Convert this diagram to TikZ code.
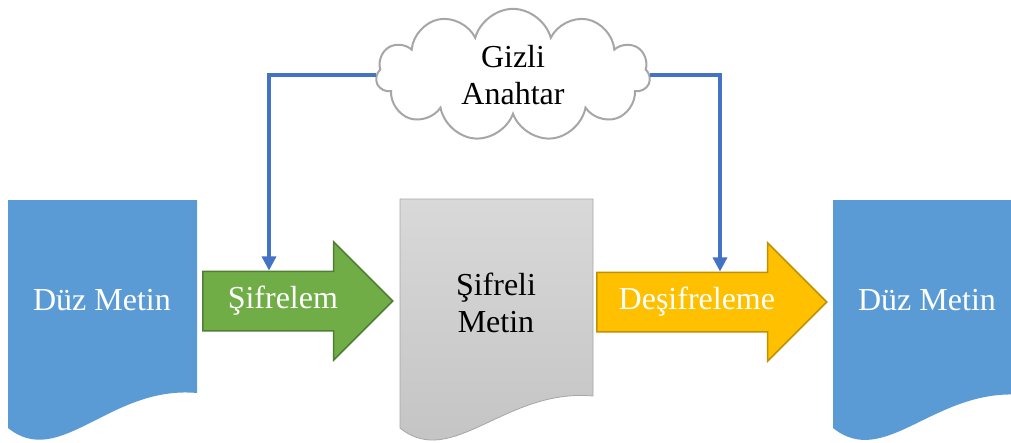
\documentclass[tikz,border=0pt]{standalone}
\usepackage{fontspec}
\setmainfont{Liberation Serif}
\usetikzlibrary{shapes.symbols,shapes.arrows,arrows.meta}

\definecolor{docblue}{HTML}{5B9BD5}
\definecolor{keyblue}{HTML}{4472C4}
\definecolor{encgreen}{HTML}{70AD47}
\definecolor{encgreendark}{HTML}{507E32}
\definecolor{decorange}{HTML}{FFC000}
\definecolor{decorangedark}{HTML}{BF9000}
\definecolor{cloudgray}{HTML}{A6A6A6}

\begin{document}
\begin{tikzpicture}[x=1pt, y=-1pt,
  txt/.style={font=\fontsize{32}{37}\selectfont, align=center},
  bigarrow/.style={txt, single arrow, single arrow head extend=29.5pt, anchor=tail,
    text height=22pt, text depth=8pt, inner ysep=14pt, line width=1.5pt, text=white},
  keyline/.style={draw=keyblue, line width=3.2pt, -{Triangle[length=14pt,width=14pt]}}]

\clip (0,0) rectangle (1011,442);

\fill[docblue] (8,200) -- (197,200) -- (197,393) .. controls (110,385) and (60,470) .. (8,428) -- cycle;
\draw[draw=cloudgray, top color=gray!30, bottom color=gray!48, line width=0.8pt]
  (400,199) -- (593,199) -- (593,396) .. controls (505,388) and (452,470) .. (400,428) -- cycle;
\fill[docblue] (833,200) -- (1023,200) -- (1023,395) .. controls (935,387) and (885,470) .. (833,428) -- cycle;

\node[txt, text=white] (plainL) at (102,300) {Düz Metin};
\node[txt] (cipher) at (496,303) {Şifreli\\Metin};
\node[txt, text=white] (plainR) at (927,300) {Düz Metin};

\node[bigarrow, fill=encgreen, draw=encgreendark, minimum height=190pt] (enc) at (202,301) {Şifrelem};
\node[bigarrow, fill=decorange, draw=decorangedark, minimum height=230pt] (dec) at (596,302) {Deşifreleme};

\node[txt, cloud, cloud puffs=11, aspect=2.1, draw=cloudgray, fill=white, line width=2pt,
  minimum width=274pt, minimum height=130pt] (key) at (513,75) {Gizli\\Anahtar};

\coordinate (keyL) at (269,72);
\coordinate (keyR) at (720,74);

\draw[keyline] (key.west) -| (keyL |- enc.north);
\draw[keyline] (key.east) -| (keyR |- dec.north);

\end{tikzpicture}
\end{document}
